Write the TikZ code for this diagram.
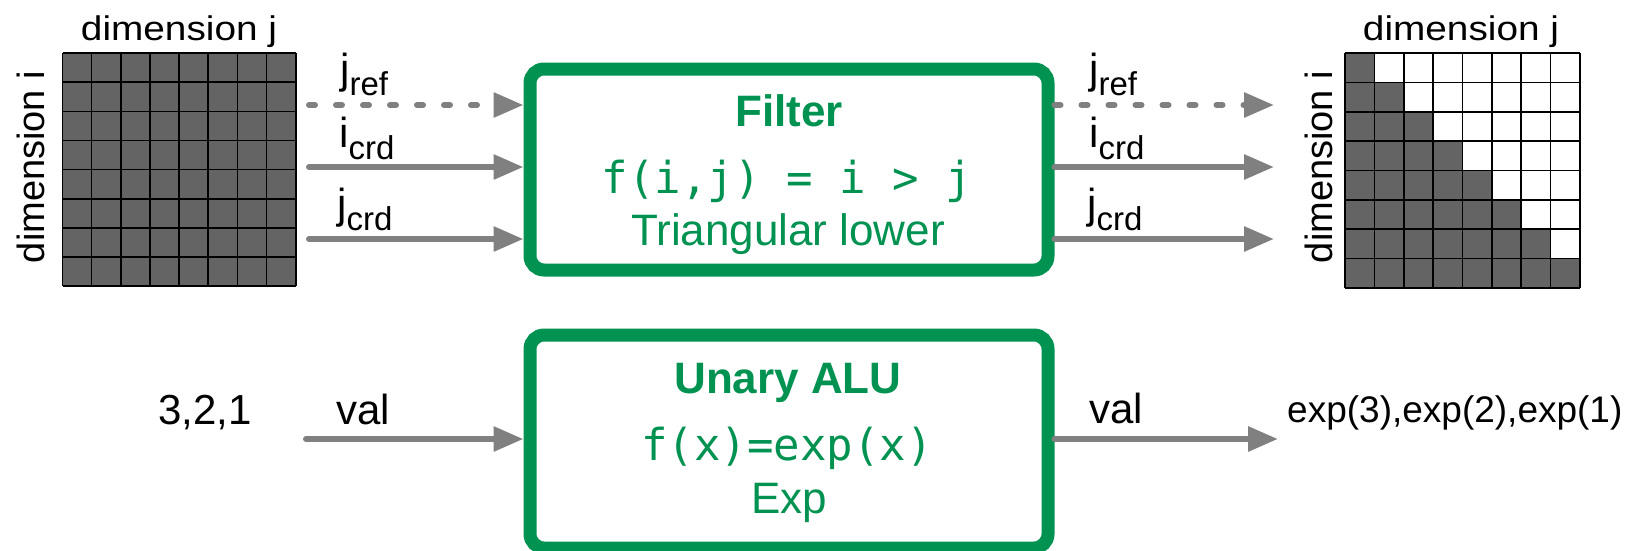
\documentclass[tikz,border=0pt]{standalone}
\usepackage{fontspec}
\setmainfont{Liberation Sans}
\setmonofont{DejaVu Sans Mono}
\usetikzlibrary{arrows.meta}
\definecolor{unitgreen}{RGB}{0,146,81}
\definecolor{wiregray}{RGB}{128,128,128}
\definecolor{cellgray}{RGB}{100,100,100}
\newcommand{\setfs}[1]{\fontsize{#1}{#1}\selectfont}
\newcommand{\lblsub}[2]{#1\raisebox{-12pt}{\setfs{33}#2}}
\newcommand{\flatlbl}[1]{\scalebox{1.02}[0.9]{#1}}

\begin{document}
\begin{tikzpicture}[x=1pt,y=-1pt,
  wire/.style={draw=wiregray, line width=6pt, line cap=round,
    -{Triangle[length=30pt,width=24pt]}},
  dashwire/.style={wire, dash pattern=on 6pt off 21pt},
  unit/.style={draw=unitgreen, line width=13pt, rounded corners=14pt,
    minimum width=518pt, inner sep=0pt, fill=white},
  title/.style={font=\bfseries\setfs{44}, text=unitgreen, anchor=base, inner sep=0pt},
  func/.style={font=\ttfamily\setfs{44}, text=unitgreen, anchor=base, inner sep=0pt},
  desc/.style={font=\setfs{44}, text=unitgreen, anchor=base, inner sep=0pt},
  lbl/.style={font=\setfs{42}, anchor=base west, inner sep=0pt},
  dimlbl/.style={font=\setfs{38}, anchor=base, inner sep=0pt},
  gridline/.style={draw=black, line width=1.6pt}
]
\useasboundingbox (0,0) rectangle (1631,550);

% ---------- input matrix: fully dense ----------
\def\cw{29.15}
\fill[cellgray] (62.5,53) rectangle (295.7,286.2);
\foreach \k in {0,...,8}{
  \draw[gridline] (62.5+\k*\cw,53) -- (62.5+\k*\cw,286.2);
  \draw[gridline] (62.5,53+\k*\cw) -- (295.7,53+\k*\cw);
}
\node[dimlbl] (dimjL) at (179,40) {\flatlbl{dimension j}};
\node[dimlbl, rotate=90] (dimiL) at (44,167) {dimension i};

% ---------- output matrix: lower triangle kept ----------
\def\cr{29.375}
\foreach \r in {0,...,7}{
  \foreach \c in {0,...,\r}{
    \fill[cellgray] (1345+\c*\cr,53+\r*\cr) rectangle ++(\cr,\cr);
  }
}
\foreach \k in {0,...,8}{
  \draw[gridline] (1345+\k*\cr,53) -- (1345+\k*\cr,288);
  \draw[gridline] (1345,53+\k*\cr) -- (1580,53+\k*\cr);
}
\node[dimlbl] (dimjR) at (1461,40) {\flatlbl{dimension j}};
\node[dimlbl, rotate=90] (dimiR) at (1332,167) {dimension i};

% ---------- filter unit ----------
\node[unit, minimum height=201pt] (filter) at (789,169.5) {};
\node[title] (filterT) at (789,126) {Filter};
\node[func]  (filterF) at (787,193) {f(i,j) = i > j};
\node[desc]  (filterD) at (788,245) {Triangular lower};

% ---------- unary ALU ----------
\node[unit, minimum height=213pt] (alu) at (789,441.5) {};
\node[title] (aluT) at (788,393) {Unary ALU};
\node[func]  (aluF) at (787,460) {f(x)=exp(x)};
\node[desc]  (aluD) at (789,513) {Exp};

% ---------- filter streams ----------
\coordinate (jrefIn) at (309,105);
\coordinate (icrdIn) at (309,167);
\coordinate (jcrdIn) at (309,239);
\coordinate (jrefOut) at (1274,105);
\coordinate (icrdOut) at (1274,167);
\coordinate (jcrdOut) at (1274,239);

\draw[dashwire] (jrefIn) -- (jrefIn -| filter.west);
\draw[wire] (icrdIn) -- (icrdIn -| filter.west);
\draw[wire] (jcrdIn) -- (jcrdIn -| filter.west);
\draw[dashwire] (jrefOut -| filter.east) -- (jrefOut);
\draw[wire] (icrdOut -| filter.east) -- (icrdOut);
\draw[wire] (jcrdOut -| filter.east) -- (jcrdOut);

\node[lbl] (jrefL) at (340,83) {\lblsub{j}{ref}};
\node[lbl] (icrdL) at (339,147) {\lblsub{i}{crd}};
\node[lbl] (jcrdL) at (337,218) {\lblsub{j}{crd}};
\node[lbl] (jrefR) at (1089,83) {\lblsub{j}{ref}};
\node[lbl] (icrdR) at (1089,147) {\lblsub{i}{crd}};
\node[lbl] (jcrdR) at (1087,218) {\lblsub{j}{crd}};

% ---------- ALU streams ----------
\coordinate (valIn) at (306,439);
\coordinate (valOut) at (1278,439);
\draw[wire] (valIn) -- (valIn -| alu.west);
\draw[wire] (valOut -| alu.east) -- (valOut);

\node[lbl, anchor=base] (inVals) at (205,424) {3,2,1};
\node[lbl] (valL) at (336,424) {val};
\node[lbl] (valR) at (1089,423) {val};
\node[lbl, font=\setfs{37}] (outVals) at (1287,422) {exp(3),exp(2),exp(1)};
\end{tikzpicture}
\end{document}
